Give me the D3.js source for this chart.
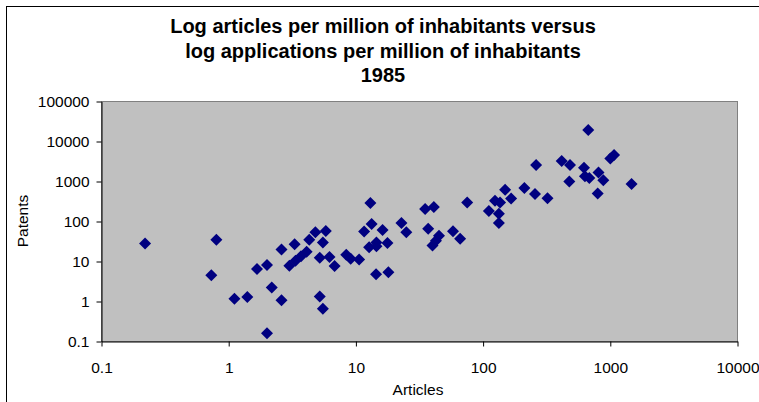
<!DOCTYPE html>
<html>
<head>
<meta charset="utf-8">
<script src="https://cdn.jsdelivr.net/npm/d3@7"></script>
<style>
  body { margin: 0; background: #fff; }
  svg { display: block; font-family: Arial, "Liberation Sans", sans-serif; }
</style>
</head>
<body>
<div id="chart"></div>
<script>
// Log-log scatter: articles vs patent applications per million inhabitants, 1985
const titleLines = [
    'Log articles per million of inhabitants versus',
    'log applications per million of inhabitants',
    '1985'
];
const xTicks = [0.1, 1, 10, 100, 1000, 10000];
const yTicks = [0.1, 1, 10, 100, 1000, 10000, 100000];

const articles = [
    0.22, 0.8, 0.73, 1.11, 1.4, 2.0, 1.67, 2.0, 2.18, 2.6,
    2.6, 3.3, 3.0, 3.35, 3.7, 4.1, 4.3, 4.8, 5.8, 5.5,
    5.2, 6.2, 6.8, 5.2, 5.5, 8.4, 9.1, 10.6, 13, 13.3,
    11.6, 16.2, 12.7, 14.5, 14.5, 17.7, 14.4, 18, 22.8, 24.9,
    35, 41, 37, 45, 40, 42.6, 58, 66, 75, 111,
    124, 136, 133, 133, 149, 166, 211, 261, 256, 321,
    415, 482, 476, 671, 621, 632, 684, 808, 881, 796,
    1000, 1070, 1470
];
const patents = [
    28, 35, 4.5, 1.17, 1.3, 0.16, 6.5, 8.2, 2.24, 1.08,
    20, 27, 7.8, 10.4, 13.5, 17.5, 35, 54, 58, 30,
    12.4, 13, 7.7, 1.33, 0.66, 14.7, 11.7, 11.2, 290, 86,
    56, 61, 22.6, 30, 24, 29, 4.8, 5.4, 92, 54,
    204, 229, 66, 44, 25, 33, 57, 37, 300, 182,
    330, 300, 156, 92, 620, 374, 690, 2570, 490, 380,
    3240, 2590, 1000, 19300, 2200, 1350, 1220, 1670, 1070, 500,
    3740, 4600, 870
];

const width = 759, height = 402;
const plot = { left: 101.5, right: 737.5, top: 101.5, bottom: 341.5 };

const svg = d3.select('#chart').append('svg')
    .attr('width', width)
    .attr('height', height);

// outer chart frame (runs off the right and bottom edge)
svg.append('rect')
    .attr('x', 6.5).attr('y', 6.5)
    .attr('width', 780).attr('height', 420)
    .attr('fill', '#fff')
    .attr('stroke', '#000');

const x = d3.scaleLog().domain([0.1, 10000]).range([plot.left, plot.right]);
const y = d3.scaleLog().domain([0.1, 100000]).range([plot.bottom, plot.top]);

// plot area
svg.append('rect')
    .attr('x', plot.left).attr('y', plot.top)
    .attr('width', plot.right - plot.left)
    .attr('height', plot.bottom - plot.top)
    .attr('fill', '#c0c0c0')
    .attr('stroke', '#808080');

const fmt = d => d < 1 ? '0.1' : d3.format('d')(d);

const xAxis = svg.append('g')
    .attr('transform', `translate(0,${plot.bottom})`)
    .call(d3.axisBottom(x).tickValues(xTicks).tickFormat(fmt).tickSize(5).tickSizeOuter(0));
xAxis.select('.domain').attr('stroke', '#000');
xAxis.selectAll('text')
    .attr('y', 31).attr('dy', null)
    .attr('font-size', '15.5px')
    .attr('font-family', 'Arial, "Liberation Sans", sans-serif')
    .attr('fill', '#000');

const yAxis = svg.append('g')
    .attr('transform', `translate(${plot.left},0)`)
    .call(d3.axisLeft(y).tickValues(yTicks).tickFormat(fmt).tickSize(5).tickSizeOuter(0));
yAxis.select('.domain').attr('stroke', '#000');
yAxis.selectAll('text')
    .attr('x', -12)
    .attr('font-size', '15.5px')
    .attr('font-family', 'Arial, "Liberation Sans", sans-serif')
    .attr('fill', '#000');

// points
svg.append('g')
    .selectAll('path')
    .data(articles.map((a, i) => [a, patents[i]]))
    .join('path')
    .attr('transform', d => `translate(${x(d[0])},${y(d[1])})`)
    .attr('d', 'M0,-6L6,0L0,6L-6,0Z')
    .attr('fill', '#000080');

// titles
svg.append('g')
    .selectAll('text')
    .data(titleLines)
    .join('text')
    .attr('x', 383)
    .attr('y', (d, i) => 33 + i * 24.5)
    .attr('text-anchor', 'middle')
    .attr('font-size', '20px')
    .attr('font-weight', 'bold')
    .text(d => d);

svg.append('text')
    .attr('x', 418)
    .attr('y', 395)
    .attr('text-anchor', 'middle')
    .attr('font-size', '15.5px')
    .text('Articles');

svg.append('text')
    .attr('transform', 'translate(28,221) rotate(-90)')
    .attr('text-anchor', 'middle')
    .attr('font-size', '15.5px')
    .text('Patents');
</script>
</body>
</html>
